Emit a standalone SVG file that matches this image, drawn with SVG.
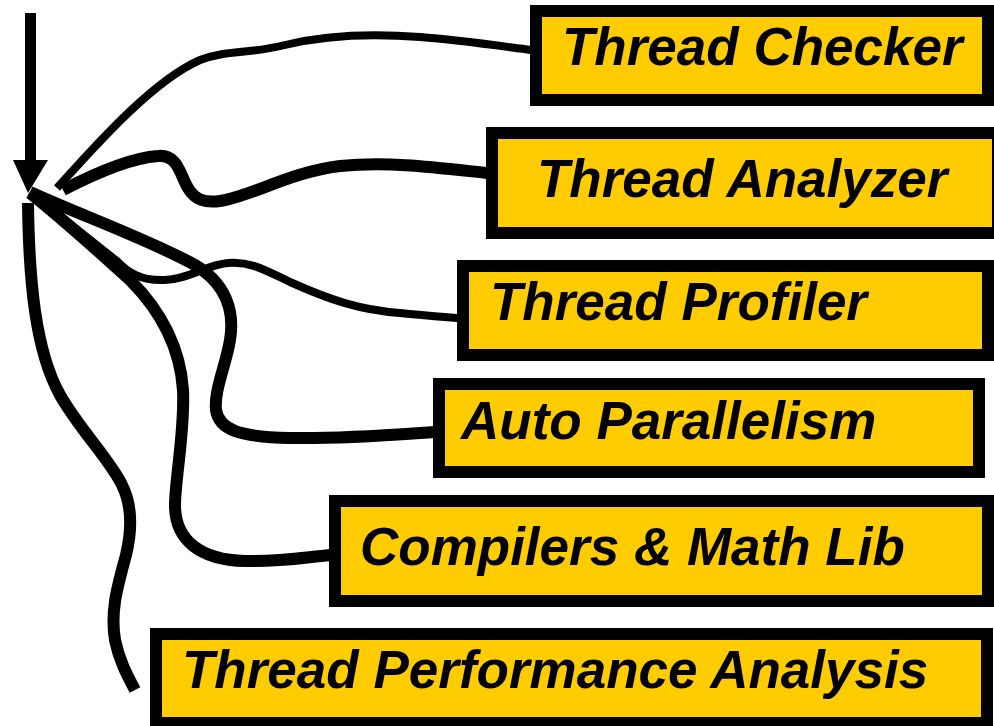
<svg xmlns="http://www.w3.org/2000/svg" width="994" height="726" viewBox="0 0 994 726">
  <style>
    .box { fill: #FFCC00; stroke: #000; stroke-width: 12; }
    .label { font-family: "Liberation Sans", Arial, sans-serif; font-weight: bold; font-style: italic; font-size: 53px; fill: #000; }
    .thin { fill: none; stroke: #000; stroke-width: 8; stroke-linecap: butt; stroke-linejoin: round; }
    .thick { fill: none; stroke: #000; stroke-width: 12; stroke-linecap: butt; stroke-linejoin: round; }
  </style>
  <rect width="994" height="726" fill="#fff"/>

  <g id="connectors">
    <!-- incoming arrow -->
    <line x1="30.5" y1="13" x2="30.5" y2="162" stroke="#000" stroke-width="11"/>
    <polygon points="13,160 48,160 28,193" fill="#000"/>
    <!-- Thread Checker -->
    <path class="thin" d="M57,188 C90,152 150,82 200,60 C225,50 250,54 285,45 C330,34 380,34 420,37 C460,40 500,46 531,50"/>
    <!-- Thread Analyzer -->
    <path class="thick" d="M63,190 C90,176 130,158 158,156 C178,154 180,175 188,188 C195,200 205,203 220,201 C250,197 290,172 340,166 C390,161 440,168 487,173"/>
    <!-- Thread Profiler -->
    <path class="thin" d="M30,192 L118,262 C128,272 140,281 165,280 C190,279 205,265 228,263 C250,261 265,270 290,282 C330,300 360,310 400,313 C420,315 440,317 458,318"/>
    <!-- Auto Parallelism -->
    <path class="thick" d="M30,192 C80,215 150,240 195,265 C225,283 235,310 230,340 C226,365 214,390 216,410 C219,430 240,437 290,438 C340,439 390,435 434,432"/>
    <!-- Compilers & Math Lib -->
    <path class="thick" d="M30,193 C70,225 110,262 130,280 C160,310 180,345 183,390 C185,430 175,480 175,505 C175,540 200,560 245,561 C280,562 300,558 330,555"/>
    <!-- Thread Performance Analysis -->
    <path class="thick" d="M28,203 C29,280 35,350 60,395 C80,430 110,460 122,485 C132,505 132,530 126,555 C118,585 110,610 115,640 C119,660 127,675 135,690"/>
  </g>

  <g id="thread-checker">
    <rect class="box" x="536" y="11" width="452" height="89"/>
    <text class="label" x="562" y="65">Thread Checker</text>
  </g>
  <g id="thread-analyzer">
    <rect class="box" x="492" y="133" width="506" height="100"/>
    <text class="label" x="537" y="197">Thread Analyzer</text>
  </g>
  <g id="thread-profiler">
    <rect class="box" x="463" y="266" width="525" height="89"/>
    <text class="label" x="490" y="320">Thread Profiler</text>
  </g>
  <g id="auto-parallelism">
    <rect class="box" x="439" y="384" width="540" height="88"/>
    <text class="label" x="461" y="439">Auto Parallelism</text>
  </g>
  <g id="compilers-math-lib">
    <rect class="box" x="335" y="501" width="653" height="100"/>
    <text class="label" x="360" y="565">Compilers &amp; Math Lib</text>
  </g>
  <g id="thread-performance-analysis">
    <rect class="box" x="156" y="634" width="831" height="89"/>
    <text class="label" x="182" y="688">Thread Performance Analysis</text>
  </g>
</svg>
